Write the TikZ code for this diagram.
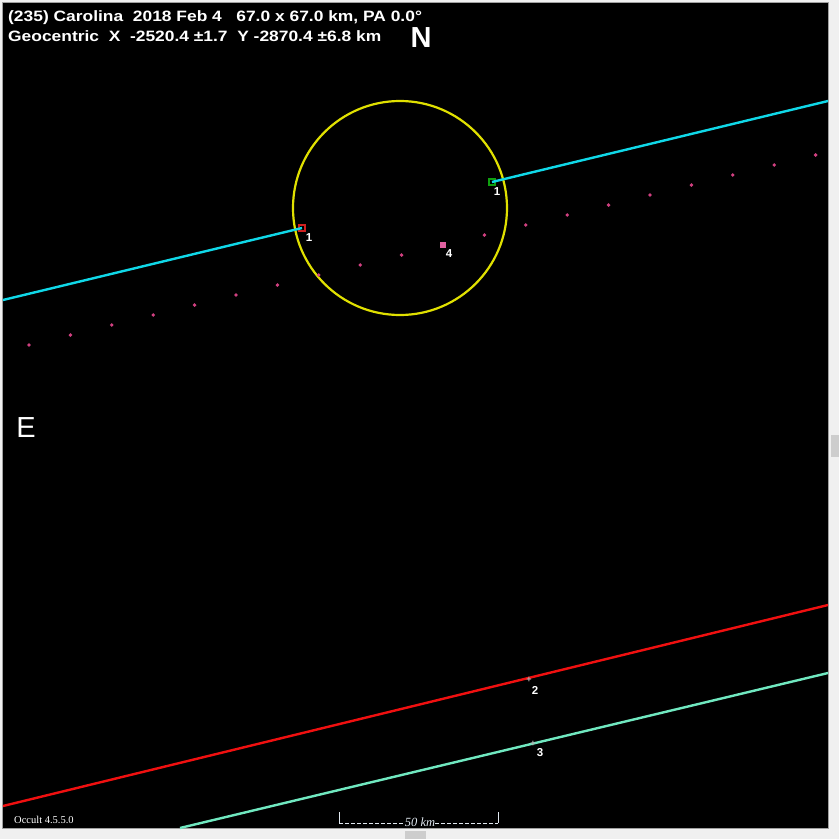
\documentclass[tikz,border=0pt]{standalone}
\usepackage{fontspec}
\setmainfont{Liberation Sans}
\newfontfamily\serifx{Liberation Serif}
\definecolor{winbg}{HTML}{F0F0F0}
\definecolor{frameln}{HTML}{A0A0A0}
\definecolor{thumb}{HTML}{CDCDCD}
\definecolor{chordcyan}{HTML}{10D8E8}
\definecolor{chordred}{HTML}{F01010}
\definecolor{chordaqua}{HTML}{70E8C0}
\definecolor{ylw}{HTML}{E0E000}
\definecolor{pathpink}{HTML}{D04080}
\definecolor{mkpink}{HTML}{E060A0}
\definecolor{mkgreen}{HTML}{10A010}
\definecolor{mkred}{HTML}{D02020}
\definecolor{scalec}{HTML}{E0E8F0}
\begin{document}
\begin{tikzpicture}[x=1pt,y=-1pt,
  chord/.style={line width=2.4pt},
  lbl/.style={text=white,font=\fontsize{11.5}{11.5}\selectfont\bfseries,inner sep=0pt},
  mk/.style={draw,minimum size=6pt,inner sep=0pt,line width=1.2pt},
  dotp/.style={circle,fill=pathpink,inner sep=0pt,minimum size=3.8pt},
  hdr/.style={text=white,font=\fontsize{15}{17}\selectfont\bfseries,anchor=base west,inner sep=0pt}]
\useasboundingbox (0,0) rectangle (839,839);
\fill[winbg] (0,0) rectangle (839,839);
\draw[fill=black,draw=frameln,line width=1pt] (2.5,2.5) rectangle (828,828.5);
\fill[thumb] (831,435) rectangle (839,457);
\fill[thumb] (405,831) rectangle (426,839);
% header
\node[hdr] (t1) at (8,21) {\scalebox{1.16}[1]{(235) Carolina\ \ 2018 Feb 4\ \ \ 67.0 x 67.0 km, PA 0.0°}};
\node[hdr] (t2) at (8,41) {\scalebox{1.16}[1]{Geocentric\ \ X\ \ -2520.4 ±1.7\ \ Y -2870.4 ±6.8 km}};
\node[text=white,font=\fontsize{29}{29}\selectfont\bfseries,anchor=base,inner sep=0pt] (N) at (421,47) {N};
\node[text=white,font=\fontsize{29}{29}\selectfont,anchor=base,inner sep=0pt] (E) at (26,437) {E};
% asteroid outline
\draw[ylw,line width=2.2pt] (400,208) circle[radius=107];
% path dots
\foreach \k in {0,...,19}{
  \node[dotp] (d\k) at ({29+41.4*\k},{345-10*\k}) {};
}
% markers
\node[mk,draw=mkred] (m1a) at (302,228) {};
\node[mk,draw=mkgreen] (m1b) at (492,182) {};
\node[fill=mkpink,minimum size=6pt,inner sep=0pt] (m4) at (443,245) {};
\coordinate (cL) at (3,300);
\coordinate (cR) at (828,101);
\draw[chordcyan,chord] (cL) -- (m1a.center);
\draw[chordcyan,chord] (m1b.center) -- (cR);
\coordinate (rL) at (3,806);
\coordinate (rR) at (828,605);
\draw[chordred,chord] (rL) -- (rR);
\coordinate (aL) at (180,828);
\coordinate (aR) at (828,673);
\draw[chordaqua,chord] (aL) -- (aR);
\node[inner sep=0pt,text=gray!60,font=\fontsize{9}{9}\selectfont\bfseries] (m2) at (529,680) {+};
\node[inner sep=0pt,text=gray!60,font=\fontsize{9}{9}\selectfont\bfseries] (m3) at (533,743.5) {+};
% labels
\node[lbl] (l1a) at (309,238) {1};
\node[lbl] (l1b) at (497,192) {1};
\node[lbl] (l4) at (449,254) {4};
\node[lbl] (l2) at (535,690) {2};
\node[lbl] (l3) at (540,753) {3};
% scale bar
\node[text=scalec,font=\serifx\itshape\fontsize{12.5}{12.5}\selectfont,anchor=base,inner sep=0pt] (sc) at (420,826) {50 km};
\coordinate (sbL) at (339,812);
\coordinate (sbR) at (498,812);
\draw[scalec,line width=0.9pt] (sbL) -- (339,823);
\draw[scalec,line width=0.9pt] (sbR) -- (498,823);
\draw[scalec,line width=0.9pt,dash pattern=on 4pt off 2pt] (339,823) -- (sc.west |- 0,823);
\draw[scalec,line width=0.9pt,dash pattern=on 4pt off 2pt] (sc.east |- 0,823) -- (498,823);
\node[text=white,font=\serifx\fontsize{10.5}{10.5}\selectfont,anchor=base west,inner sep=0pt] (occ) at (14,823) {Occult 4.5.5.0};
\end{tikzpicture}
\end{document}
